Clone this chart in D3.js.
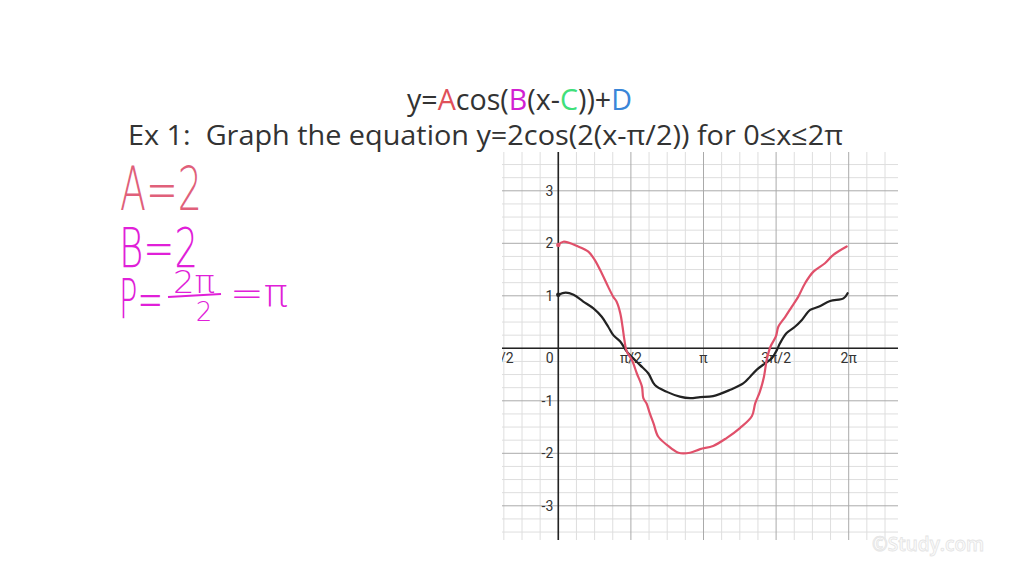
<!DOCTYPE html>
<html><head><meta charset="utf-8">
<script src="https://cdn.jsdelivr.net/npm/d3@7"></script>
<style>body{margin:0;background:#fff}svg{display:block}</style>
</head><body><svg id="c" width="1024" height="576"></svg>
<script>
// hand-drawn curves (x in radians)
const redX = [0.00,0.11,0.43,0.65,0.79,0.94,1.08,1.19,1.26,1.34,1.39,1.43,1.48,1.59,1.70,1.81,1.84,1.91,1.98,2.06,2.16,2.35,2.60,2.85,3.07,3.35,3.64,3.93,4.19,4.26,4.36,4.45,4.51,4.59,4.71,4.76,4.91,5.05,5.19,5.34,5.52,5.77,5.95,6.24];
const redY = [1.97,2.03,1.94,1.84,1.68,1.43,1.17,0.98,0.89,0.67,0.41,0.16,-0.06,-0.22,-0.48,-0.73,-0.95,-1.05,-1.24,-1.43,-1.68,-1.84,-1.99,-1.99,-1.92,-1.86,-1.71,-1.52,-1.29,-1.05,-0.83,-0.54,-0.22,0.03,0.23,0.41,0.60,0.79,0.98,1.24,1.46,1.62,1.78,1.94];
const blackX = [0.00,0.16,0.33,0.54,0.76,0.94,1.08,1.19,1.34,1.48,1.55,1.77,1.95,2.09,2.35,2.63,2.85,3.07,3.35,3.72,4.00,4.15,4.29,4.47,4.62,4.73,4.80,4.94,5.12,5.27,5.45,5.63,5.88,6.17,6.26];
const blackY = [1.02,1.06,1.02,0.89,0.76,0.60,0.41,0.25,0.13,-0.06,-0.13,-0.32,-0.48,-0.70,-0.83,-0.92,-0.95,-0.93,-0.91,-0.79,-0.67,-0.54,-0.41,-0.29,-0.19,-0.03,0.10,0.29,0.41,0.54,0.73,0.79,0.90,0.95,1.05];
const xTickVals = [-Math.PI/2, 0, Math.PI/2, Math.PI, 3*Math.PI/2, 2*Math.PI];
const xTickLabels = ["-π/2","0","π/2","π","3π/2","2π"];
const yTickVals = [-3,-2,-1,1,2,3];
const yTickLabels = ["-3","-2","-1","1","2","3"];

const svg = d3.select("#c");
const x = d3.scaleLinear().domain([0, 2*Math.PI]).range([558.3, 848.7]);
const y = d3.scaleLinear().domain([0, 3]).range([348.3, 190.8]);
const L = 502, R = 898, T = 152, B = 540;

svg.append("defs").append("clipPath").attr("id","gc")
  .append("rect").attr("x",L).attr("y",T).attr("width",R-L).attr("height",B-T);

const g = svg.append("g").attr("clip-path","url(#gc)");
// minor grid
g.selectAll(".mx").data(d3.range(-5,21).filter(k=>k%4!==0)).enter().append("line")
  .attr("x1",k=>x(k*Math.PI/8)).attr("x2",k=>x(k*Math.PI/8)).attr("y1",T).attr("y2",B)
  .attr("stroke","#dedede").attr("stroke-width",1);
g.selectAll(".my").data(d3.range(-16,17).filter(j=>j%4!==0)).enter().append("line")
  .attr("y1",j=>y(j/4)).attr("y2",j=>y(j/4)).attr("x1",L).attr("x2",R)
  .attr("stroke","#dedede").attr("stroke-width",1);
// major grid
g.selectAll(".Mx").data(d3.range(-1,5)).enter().append("line")
  .attr("x1",k=>x(k*Math.PI/2)).attr("x2",k=>x(k*Math.PI/2)).attr("y1",T).attr("y2",B)
  .attr("stroke","#aaaaaa").attr("stroke-width",1);
g.selectAll(".My").data(d3.range(-4,5)).enter().append("line")
  .attr("y1",j=>y(j)).attr("y2",j=>y(j)).attr("x1",L).attr("x2",R)
  .attr("stroke","#aaaaaa").attr("stroke-width",1);
// axes
g.append("line").attr("x1",L).attr("x2",R).attr("y1",y(0)).attr("y2",y(0)).attr("stroke","#222").attr("stroke-width",1.6);
g.append("line").attr("x1",x(0)).attr("x2",x(0)).attr("y1",T).attr("y2",B).attr("stroke","#222").attr("stroke-width",1.6);

// tick labels
const lab = g.append("g").attr("font-family","Roboto, sans-serif").attr("font-size",14).attr("fill","#333");
lab.selectAll(".xl").data(xTickVals).enter().append("text")
  .attr("x",(d,i)=> i===0 ? x(d)+28 : (i===1 ? x(d)-8.5 : x(d)))
  .attr("y",y(0)+15)
  .attr("text-anchor",(d,i)=> i===0 ? "end" : "middle")
  .text((d,i)=>xTickLabels[i]);
lab.selectAll(".yl").data(yTickVals).enter().append("text")
  .attr("x",x(0)-5).attr("y",d=>y(d)+5).attr("text-anchor","end")
  .text((d,i)=>yTickLabels[i]);

// curves
const line = d3.line().curve(d3.curveCatmullRom.alpha(0.5));
g.append("path").attr("d", line(blackX.map((v,i)=>[x(v), y(blackY[i])])))
  .attr("fill","none").attr("stroke","#222").attr("stroke-width",2.2).attr("stroke-linejoin","round").attr("stroke-linecap","round");
g.append("path").attr("d", line(redX.map((v,i)=>[x(v), y(redY[i])])))
  .attr("fill","none").attr("stroke","#e0506a").attr("stroke-width",2.2).attr("stroke-linejoin","round").attr("stroke-linecap","round");
g.append("circle").attr("cx",x(blackX[0])).attr("cy",y(blackY[0])).attr("r",2.2).attr("fill","#222");
g.append("circle").attr("cx",x(redX[0])).attr("cy",y(redY[0])).attr("r",2.2).attr("fill","#e0506a");

// titles
const t1 = svg.append("text").attr("x",519.5).attr("y",110).attr("text-anchor","middle")
  .attr("font-family","'Open Sans', sans-serif").attr("font-size",28.5).attr("fill","#333")
  .attr("textLength",225).attr("lengthAdjust","spacingAndGlyphs");
[["y=","#333"],["A","#e0505a"],["cos(","#333"],["B","#d21fd2"],["(x-","#333"],["C","#3fe07a"],["))+","#333"],["D","#3a86d8"]]
  .forEach(([s,c])=>t1.append("tspan").attr("fill",c).text(s));
svg.append("text").attr("x",128).attr("y",144.5).attr("font-family","'Open Sans', sans-serif")
  .attr("font-size",28).attr("fill","#333").attr("xml:space","preserve")
  .attr("textLength",715).attr("lengthAdjust","spacingAndGlyphs")
  .text("Ex 1:  Graph the equation y=2cos(2(x-π/2)) for 0≤x≤2π");

// handwritten notes
const hw = svg.append("g").attr("font-family","'DejaVu Sans', sans-serif").attr("font-weight",200);
hw.append("text").attr("x",120).attr("y",210).attr("font-size",60).attr("fill","#e0607a")
  .attr("textLength",82).attr("lengthAdjust","spacingAndGlyphs").text("A=2");
hw.append("text").attr("x",119).attr("y",267).attr("font-size",55).attr("fill","#e020d8")
  .attr("textLength",79).attr("lengthAdjust","spacingAndGlyphs").text("B=2");
hw.append("text").attr("x",119).attr("y",318).attr("font-size",55).attr("fill","#e020d8")
  .attr("textLength",44).attr("lengthAdjust","spacingAndGlyphs").text("P=");
hw.append("text").attr("x",194).attr("y",293).attr("font-size",32).attr("text-anchor","middle").attr("fill","#e020d8")
  .attr("textLength",42).attr("lengthAdjust","spacingAndGlyphs").text("2π");
hw.append("line").attr("x1",168).attr("x2",221).attr("y1",297).attr("y2",294).attr("stroke","#e020d8").attr("stroke-width",2.2);
hw.append("text").attr("x",204).attr("y",321).attr("font-size",26).attr("text-anchor","middle").attr("fill","#e020d8").text("2");
hw.append("text").attr("x",230).attr("y",306).attr("font-size",38).attr("fill","#e020d8")
  .attr("textLength",58).attr("lengthAdjust","spacingAndGlyphs").text("=π");

// watermark
svg.append("text").attr("x",872).attr("y",551).attr("font-family","'Open Sans', sans-serif").attr("font-weight",600)
  .attr("font-size",19).attr("fill","#fcfcfc").attr("stroke","#e4e4e4").attr("stroke-width",0.8).text("©Study.com");
</script></body></html>
